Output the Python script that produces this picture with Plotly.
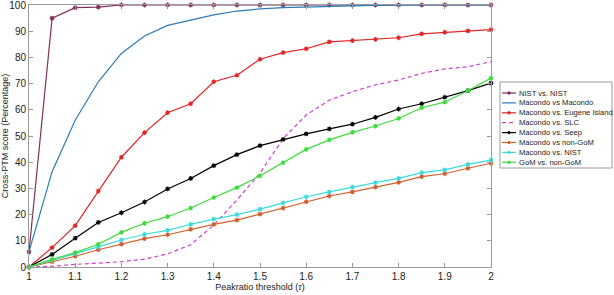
import plotly.graph_objects as go

x_vals = [1.0, 1.05, 1.1, 1.15, 1.2, 1.25, 1.3, 1.35, 1.4, 1.45, 1.5,
          1.55, 1.6, 1.65, 1.7, 1.75, 1.8, 1.85, 1.9, 1.95, 2.0]

nist_vs_nist = [5.8, 95, 99, 99.2, 100, 100, 100, 100, 100, 100, 100,
                100, 100, 100, 100, 100, 100, 100, 100, 100, 100]
macondo_vs_macondo = [5.8, 36.4, 56, 70.7, 81.5, 88.2, 92.2, 94.3, 96.2, 97.7, 98.5,
                      99.0, 99.3, 99.5, 99.7, 99.8, 100, 100, 100, 100, 100]
macondo_vs_eugene = [0, 7.4, 15.8, 29, 41.9, 51.3, 58.9, 62.3, 70.7, 73.2, 79.3,
                     81.8, 83.3, 85.9, 86.4, 86.9, 87.5, 89, 89.6, 90.1, 90.6]
macondo_vs_slc = [0, 0.3, 1.0, 1.5, 2.0, 3.0, 5.0, 8.5, 16.0, 25.6, 35.8,
                  49.0, 58, 63.7, 66.9, 69.5, 71.4, 73.9, 75.6, 76.4, 78.4]
macondo_vs_seep = [0, 4.8, 11, 17, 20.7, 24.8, 29.8, 33.8, 38.7, 42.9, 46.3,
                   48.7, 50.8, 52.7, 54.5, 57.1, 60.3, 62.3, 64.8, 67.3, 70.2]
macondo_vs_nongom = [0, 2.0, 4.1, 6.6, 8.7, 10.8, 12.3, 14.4, 16.3, 17.9, 20.2,
                     22.5, 24.9, 27.1, 28.7, 30.5, 32.3, 34.5, 35.6, 37.7, 39.6]
macondo_vs_nist = [0, 2.7, 5.1, 7.7, 10.3, 12.5, 14, 16.3, 18.3, 20, 22.1,
                   24.5, 26.8, 28.7, 30.5, 32.2, 33.8, 36, 37.1, 39.2, 40.8]
gom_vs_nongom = [0, 2.9, 5.5, 8.7, 13.2, 16.7, 19.2, 22.5, 26.5, 30.3, 34.8,
                 39.8, 44.9, 48.5, 51.4, 53.8, 56.7, 60.8, 62.9, 67.3, 72.1]

x_ticks = [1, 1.1, 1.2, 1.3, 1.4, 1.5, 1.6, 1.7, 1.8, 1.9, 2]
x_tick_labels = ["1", "1.1", "1.2", "1.3", "1.4", "1.5", "1.6", "1.7", "1.8", "1.9", "2"]
y_ticks = [0, 10, 20, 30, 40, 50, 60, 70, 80, 90, 100]

series = [
    ("NIST vs. NIST", nist_vs_nist, "#7E2F5E", "solid", True),
    ("Macondo vs Macondo", macondo_vs_macondo, "#2A7DB8", "solid", False),
    ("Macondo vs. Eugene Island", macondo_vs_eugene, "#E02424", "solid", True),
    ("Macondo vs. SLC", macondo_vs_slc, "#D040D0", "4px,3px", False),
    ("Macondo vs. Seep", macondo_vs_seep, "#000000", "solid", True),
    ("Macondo vs non-GoM", macondo_vs_nongom, "#D2602E", "solid", True),
    ("Macondo vs. NIST", macondo_vs_nist, "#3ADCDC", "solid", True),
    ("GoM vs. non-GoM", gom_vs_nongom, "#3CDC3C", "solid", True),
]

FONT = "Liberation Sans, Arial"

# plot area in pixels (for placing the custom legend)
W, H = 614, 295
L, R, T, B = 29, 123, 5, 28
PW, PH = W - L - R, H - T - B


def px_to_paper_x(px):
    return (px - L) / PW


def px_to_paper_y(py):
    return (H - B - py) / PH


fig = go.Figure()
for name, ys, color, dash, markers in series:
    fig.add_trace(go.Scatter(
        x=x_vals, y=ys, name=name,
        mode="lines+markers" if markers else "lines",
        line=dict(color=color, width=1.2, dash=dash),
        marker=dict(symbol="asterisk-open", size=4, color=color,
                    line=dict(color=color, width=1.1)),
        showlegend=False,
        cliponaxis=False,
    ))

# custom compact legend (MATLAB-like)
shapes = []
annotations = []
box_x0, box_x1, box_y0, box_y1 = 500, 612, 82, 168
shapes.append(dict(type="rect", xref="paper", yref="paper",
                   x0=px_to_paper_x(box_x0), x1=px_to_paper_x(box_x1),
                   y0=px_to_paper_y(box_y1), y1=px_to_paper_y(box_y0),
                   line=dict(color="#9a9a9a", width=1), fillcolor="white", layer="above"))
for i, (name, ys, color, dash, markers) in enumerate(series):
    py = 93 + 9.9 * i
    shapes.append(dict(type="line", xref="paper", yref="paper",
                       x0=px_to_paper_x(502), x1=px_to_paper_x(516),
                       y0=px_to_paper_y(py), y1=px_to_paper_y(py),
                       line=dict(color=color, width=1.2, dash=dash),
                       layer="above"))
    if markers:
        shapes.append(dict(type="circle", xref="paper", yref="paper",
                           x0=px_to_paper_x(507.8), x1=px_to_paper_x(510.2),
                           y0=px_to_paper_y(py + 1.2), y1=px_to_paper_y(py - 1.2),
                           line=dict(color=color, width=1), fillcolor=color, layer="above"))
    annotations.append(dict(xref="paper", yref="paper",
                            x=px_to_paper_x(517), y=px_to_paper_y(py),
                            xanchor="left", yanchor="middle", showarrow=False,
                            text=name, font=dict(family=FONT, size=7.6, color="#222")))

axis_common = dict(
    showgrid=False, zeroline=False, showline=True, mirror="ticks",
    linecolor="#9a9a9a", linewidth=1, ticks="inside", ticklen=4,
    tickcolor="#9a9a9a", ticklabeloverflow="allow",
    tickfont=dict(family=FONT, size=10, color="#222"),
)

fig.update_layout(
    width=W, height=H,
    margin=dict(l=L, r=R, t=T, b=B, autoexpand=False),
    paper_bgcolor="white", plot_bgcolor="white",
    font=dict(family=FONT, size=10, color="#222"),
    xaxis=dict(range=[1, 2], tickvals=x_ticks, ticktext=x_tick_labels,
               title=dict(text="Peakratio threshold (<i>τ</i>)", standoff=2,
                          font=dict(size=9)),
               **axis_common),
    yaxis=dict(range=[0, 100], tickvals=y_ticks,
               title=dict(text="Cross-PTM score (Percentage)", standoff=2,
                          font=dict(size=9)),
               **axis_common),
    showlegend=False,
    shapes=shapes,
    annotations=annotations,
)

fig.write_html("out.html",
               config={"displayModeBar": False},
               post_script="document.body.style.margin='0';document.body.style.overflow='hidden';")
